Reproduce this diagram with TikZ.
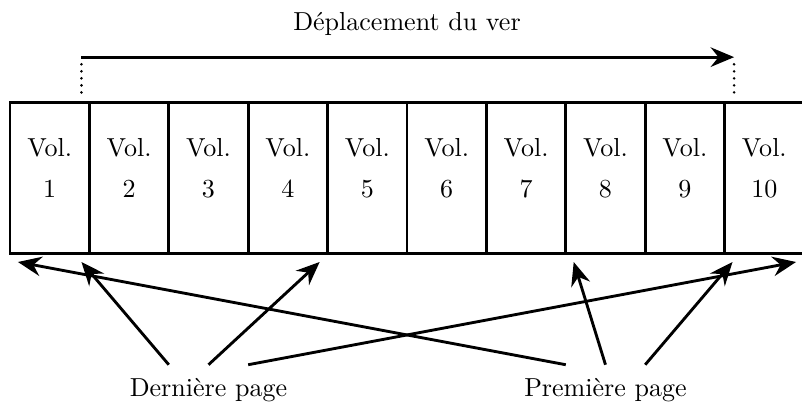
\documentclass[tikz,border=0pt]{standalone}
\usetikzlibrary{arrows.meta,calc}
\tikzset{fl/.style={-{Stealth[length=9pt,width=7.5pt,inset=3pt]}},
  pt/.style={line width=1.1pt,line cap=round,dash pattern=on 0pt off 2.7pt}}
\begin{document}
\begin{tikzpicture}[x=1.072cm,y=1.072cm,line width=1.1pt]
  \useasboundingbox (-.126,-1.904) rectangle (9.975,3.19);
  \foreach \i in {1,...,10}{
    \draw (\i-1,0) rectangle (\i,1.9);
    \node[anchor=base] (v\i) at (\i-.5,1.214) {Vol.};
    \node[anchor=base] (n\i) at (\i-.5,.70) {\i};
  }
  \coordinate (A) at (.9,2.47); \coordinate (B) at (9.12,2.47);
  \draw[fl] (A)--(B);
  \draw[pt] (.9,2.38)--(.9,2.02);
  \draw[pt] (9.12,2.38)--(9.12,2.02);
  \node[anchor=base] (dep) at (5,2.8) {Déplacement du ver};
  \node[anchor=base] (der) at (2.5,-1.81) {Dernière page};
  \node[anchor=base] (pre) at (7.5,-1.81) {Première page};
  \coordinate (d1) at (.9,-.11); \coordinate (d4) at (3.9,-.11);
  \coordinate (d10) at (9.9,-.11);
  \coordinate (p1) at (.1,-.11); \coordinate (p8) at (7.1,-.11);
  \coordinate (p10) at (9.1,-.11);
  \draw[fl] ($(der.north)+(-.5,.05)$)--(d1);
  \draw[fl] ($(der.north)+(0,.05)$)--(d4);
  \draw[fl] ($(der.north)+(.5,.05)$)--(d10);
  \draw[fl] ($(pre.north)+(-.5,.05)$)--(p1);
  \draw[fl] ($(pre.north)+(0,.05)$)--(p8);
  \draw[fl] ($(pre.north)+(.5,.05)$)--(p10);
\end{tikzpicture}
\end{document}
